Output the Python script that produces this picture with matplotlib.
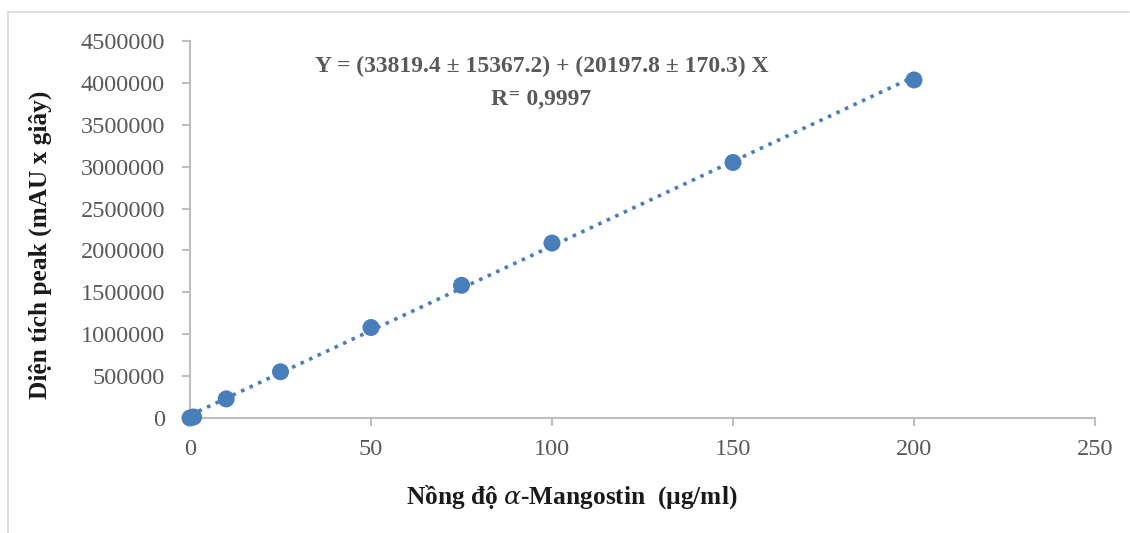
import matplotlib
matplotlib.use("Agg")
import matplotlib.pyplot as plt
import numpy as np
from matplotlib.lines import Line2D

# Data
conc = [0, 1, 10, 25, 50, 75, 100, 150, 200]
area = [0, 12000, 228000, 552000, 1080000, 1584000, 2088000, 3050000, 4035000]
intercept = 33819.4
slope = 20197.8
x_ticks = [0, 50, 100, 150, 200, 250]
y_ticks = [0, 500000, 1000000, 1500000, 2000000, 2500000, 3000000, 3500000, 4000000, 4500000]
eq_text = "Y = (33819.4 ± 15367.2) + (20197.8 ± 170.3) X"
r_text = "R⁼ 0,9997"
xlabel = r"Nồng độ $\mathit{\alpha}$-Mangostin  (µg/ml)"
ylabel = "Diện tích peak (mAU x giây)"

plt.rcParams['font.family'] = ['Liberation Serif', 'DejaVu Serif']
plt.rcParams['mathtext.fontset'] = 'custom'
plt.rcParams['mathtext.it'] = 'DejaVu Serif:italic'
plt.rcParams['mathtext.bf'] = 'Liberation Serif:bold'
plt.rcParams['mathtext.rm'] = 'Liberation Serif'

W, H = 1130, 533
fig = plt.figure(figsize=(W/100, H/100), dpi=100)
ax = fig.add_axes([190/W, 1-418/H, (1095-190)/W, (418-41)/H])

blue = '#4a7ebb'
xs = np.array([0, 200])
ax.plot(xs, intercept + slope*xs, linestyle=(0, (1, 1.6)), color=blue, lw=2.6, zorder=2)
ax.scatter(conc, area, s=150, color=blue, zorder=3, edgecolors='none', clip_on=False)

ax.set_xlim(0, 250)
ax.set_ylim(0, 4500000)
ax.set_xticks(x_ticks)
ax.set_yticks(y_ticks)
ax.set_xticklabels([str(v) for v in x_ticks])
ax.set_yticklabels([str(v) for v in y_ticks])
for s in ['top', 'right']:
    ax.spines[s].set_visible(False)
for s in ['left', 'bottom']:
    ax.spines[s].set_color('#bfbfbf')
    ax.spines[s].set_linewidth(1.5)
ax.tick_params(axis='both', colors='#bfbfbf', length=6, width=1.5, labelcolor='#595959', labelsize=17.5)
ax.tick_params(axis='y', pad=12)
ax.tick_params(axis='x', pad=9)

fig.text(572/W, 1-497/H, xlabel, ha='center', va='center', fontsize=18.3, fontweight='bold', color='#1a1a1a')
fig.text(40/W, 1-245/H, ylabel, ha='center', va='center', rotation=90, fontsize=18.3, fontweight='bold', color='#1a1a1a')
fig.text(542/W, 1-66/H, eq_text, ha='center', va='center', fontsize=17, fontweight='bold', color='#595959')
fig.text(541/W, 1-99/H, r_text, ha='center', va='center', fontsize=17, fontweight='bold', color='#595959')

# Outer frame
frame_col = '#d9d9d9'
fig.add_artist(Line2D([8/W, 8/W], [0, 1-12/H], transform=fig.transFigure, color=frame_col, lw=1.2))
fig.add_artist(Line2D([8/W, 1129/W], [1-12/H, 1-12/H], transform=fig.transFigure, color=frame_col, lw=1.2))

fig.savefig('out.png', dpi=100)
